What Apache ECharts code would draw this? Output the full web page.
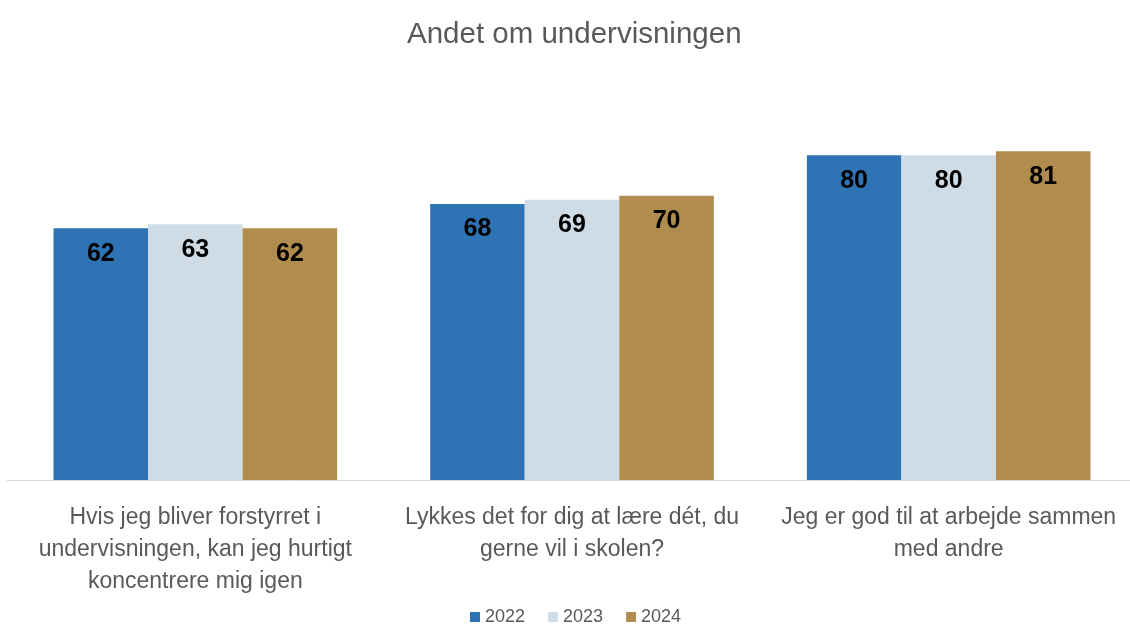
<!DOCTYPE html>
<html>
<head>
<meta charset="utf-8">
<script src="https://cdn.jsdelivr.net/npm/echarts@6/dist/echarts.min.js"></script>
<style>
	html, body { margin: 0; padding: 0; background: #fff; overflow: hidden; }
	#chart { width: 1140px; height: 626px; }
</style>
</head>
<body>
<div id="chart"></div>
<script>
const categories = [
	'Hvis jeg bliver forstyrret i\nundervisningen, kan jeg hurtigt\nkoncentrere mig igen',
	'Lykkes det for dig at lære dét, du\ngerne vil i skolen?',
	'Jeg er god til at arbejde sammen\nmed andre',
];
const years = ['2022', '2023', '2024'];
const values2022 = [62, 68, 80];
const values2023 = [63, 69, 80];
const values2024 = [62, 70, 81];
const colors = ['#2e74b5', '#cfdbe5', '#b08c4f'];

let chartDom = document.getElementById('chart');
let myChart = echarts.init(chartDom);

let seriesData = [values2022, values2023, values2024];
let series = years.map((y, i) => ({
	name: y,
	type: 'bar',
	data: seriesData[i],
	barGap: '0%',
	barCategoryGap: '24.7%',
	itemStyle: { color: colors[i] },
	label: {
		show: true,
		position: 'insideTop',
		distance: 13,
		color: '#000',
		fontWeight: 'bold',
		fontSize: 25,
		fontFamily: 'Liberation Sans',
	},
}));

let option = {
	animation: false,
	title: {
		text: 'Andet om undervisningen',
		left: 402,
		top: 15,
		textStyle: {
			color: '#595959',
			fontSize: 29.5,
			fontWeight: 'normal',
			fontFamily: 'Liberation Sans',
		},
	},
	legend: {
		data: years,
		top: 603,
		left: 465,
		itemWidth: 10,
		itemHeight: 10,
		itemGap: 23,
		icon: 'rect',
		textStyle: { color: '#595959', fontSize: 18, fontFamily: 'Liberation Sans' },
	},
	grid: { left: 7, top: 74, width: 1130, height: 406 },
	xAxis: {
		type: 'category',
		data: categories,
		axisTick: { show: false },
		axisLine: { lineStyle: { color: '#d9d9d9', width: 1 } },
		axisLabel: {
			color: '#595959',
			fontSize: 23,
			lineHeight: 32,
			margin: 22,
			interval: 0,
			fontFamily: 'Liberation Sans',
		},
	},
	yAxis: {
		type: 'value',
		min: 0,
		max: 100,
		show: false,
	},
	series: series,
};
option && myChart.setOption(option);
</script>
</body>
</html>
